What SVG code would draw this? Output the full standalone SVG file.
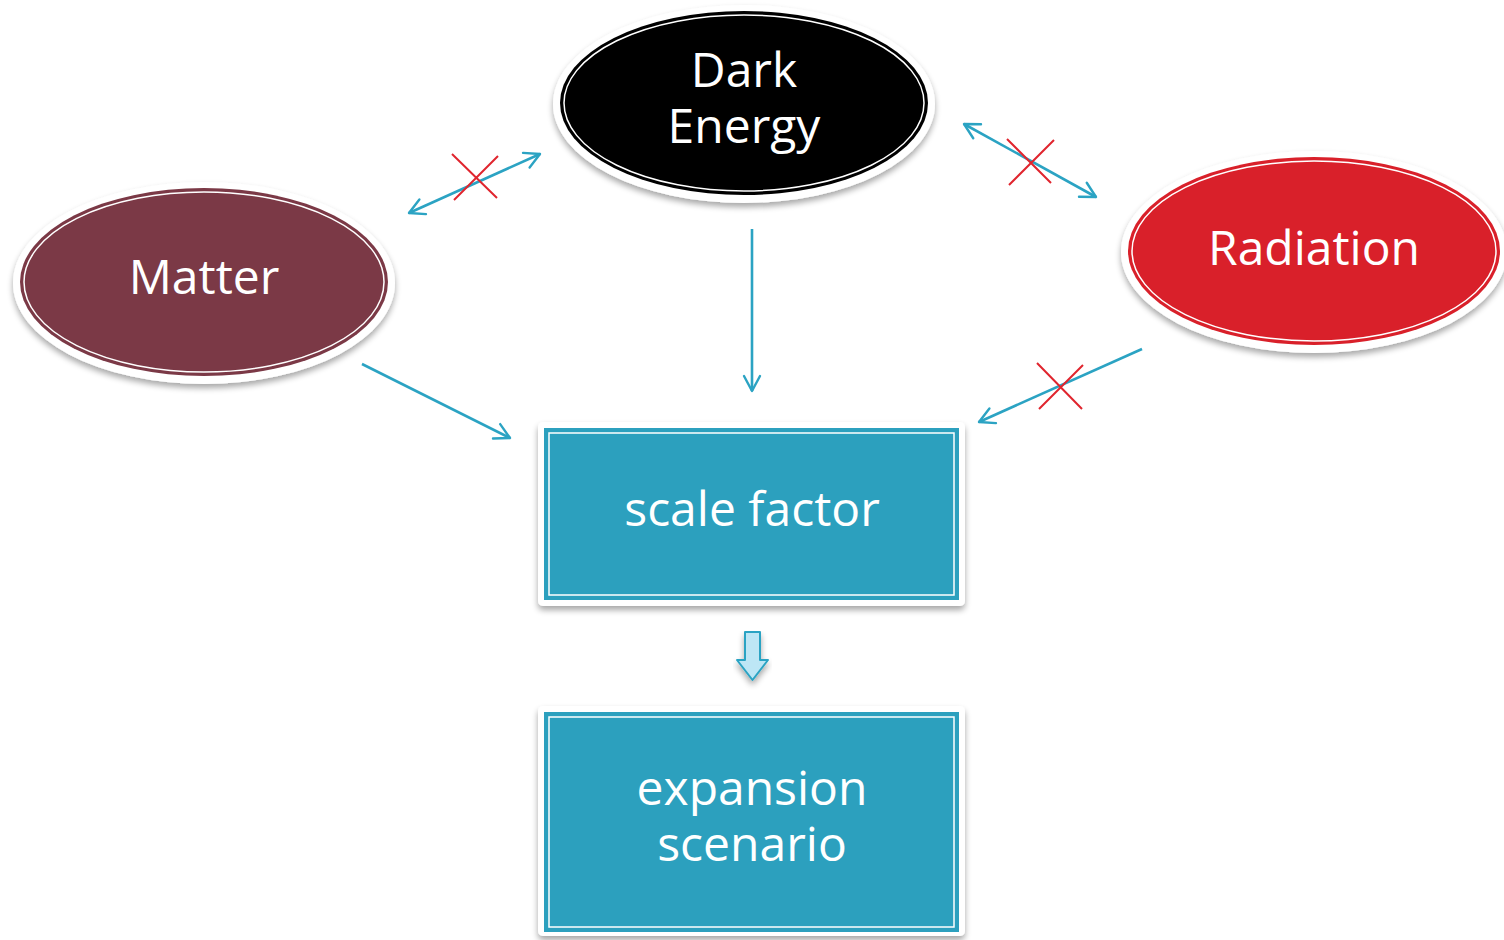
<svg xmlns="http://www.w3.org/2000/svg" width="1504" height="940" viewBox="0 0 1504 940">
<defs>
<filter id="sh" x="-10%" y="-10%" width="120%" height="130%">
<feGaussianBlur in="SourceAlpha" stdDeviation="3"/>
<feOffset dx="0" dy="4" result="b"/>
<feComponentTransfer><feFuncA type="linear" slope="0.35"/></feComponentTransfer>
<feMerge><feMergeNode/><feMergeNode in="SourceGraphic"/></feMerge>
</filter>
<marker id="ah" viewBox="0 0 20 20" refX="18" refY="10" markerWidth="20" markerHeight="20" markerUnits="userSpaceOnUse" orient="auto-start-reverse">
<path d="M3 2 L18 10 L3 18" fill="none" stroke="#2BA3C3" stroke-width="2.4" stroke-linecap="round" stroke-linejoin="round"/>
</marker>
</defs>
<style>
.frame{fill:#fff;filter:url(#sh)}
.inner{fill:none;stroke:#fff;stroke-width:1.5}
.lbl{font-family:"Open Sans","DejaVu Sans",sans-serif;font-size:48px;fill:#fff;text-anchor:middle}
.conn{stroke:#2BA3C3;stroke-width:2.6;fill:none}
.x{stroke:#E0252E;stroke-width:2;fill:none}
</style>
<rect width="1504" height="940" fill="#fff"/>
<g id="dark-energy">
<ellipse class="frame" cx="744" cy="104" rx="191" ry="99"/>
<ellipse cx="744" cy="103" rx="184" ry="92" fill="#000"/>
<ellipse class="inner" cx="744" cy="103" rx="180" ry="88"/>
<text class="lbl" x="744" y="87">Dark</text>
<text class="lbl" x="744" y="143">Energy</text>
</g>
<g id="matter">
<ellipse class="frame" cx="204" cy="283" rx="191" ry="101"/>
<ellipse cx="204" cy="282" rx="184" ry="94" fill="#7B3946"/>
<ellipse class="inner" cx="204" cy="282" rx="180" ry="90"/>
<text class="lbl" x="204" y="294">Matter</text>
</g>
<g id="radiation">
<ellipse class="frame" cx="1314" cy="252" rx="193" ry="101"/>
<ellipse cx="1314" cy="251" rx="186" ry="94" fill="#D9202A"/>
<ellipse class="inner" cx="1314" cy="251" rx="182" ry="90"/>
<text class="lbl" x="1314" y="265">Radiation</text>
</g>
<g id="scale-factor">
<rect class="frame" x="538" y="422" width="427" height="184" rx="5"/>
<rect x="544" y="428" width="415" height="172" fill="#2CA0BE"/>
<rect class="inner" x="549" y="433" width="405" height="162"/>
<text class="lbl" x="752" y="526">scale factor</text>
</g>
<g id="expansion-scenario">
<rect class="frame" x="538" y="706" width="427" height="230" rx="5"/>
<rect x="544" y="712" width="415" height="220" fill="#2CA0BE"/>
<rect class="inner" x="549" y="717" width="405" height="210"/>
<text class="lbl" x="752" y="805">expansion</text>
<text class="lbl" x="752" y="861">scenario</text>
</g>
<g id="connectors">
<line class="conn" x1="409" y1="213" x2="540" y2="154" marker-start="url(#ah)" marker-end="url(#ah)"/>
<line class="conn" x1="964" y1="124" x2="1096" y2="197" marker-start="url(#ah)" marker-end="url(#ah)"/>
<line class="conn" x1="1142" y1="349" x2="979" y2="422" marker-end="url(#ah)"/>
<line class="conn" x1="362" y1="364" x2="510" y2="438" marker-end="url(#ah)"/>
<line class="conn" x1="752" y1="229" x2="752" y2="391" marker-end="url(#ah)"/>
<path class="x" d="M452 154 L497 198 M498 156 L454 200"/>
<path class="x" d="M1007 139 L1051 183 M1054 140 L1009 185"/>
<path class="x" d="M1037 363 L1082 409 M1083 365 L1039 409"/>
<path d="M745 632 L760 632 L760 660 L768 660 L752.5 680 L737 660 L745 660 Z" fill="#BDE6F5" stroke="#2BA3C3" stroke-width="2" stroke-linejoin="round" filter="url(#sh)"/>
</g>
</svg>
